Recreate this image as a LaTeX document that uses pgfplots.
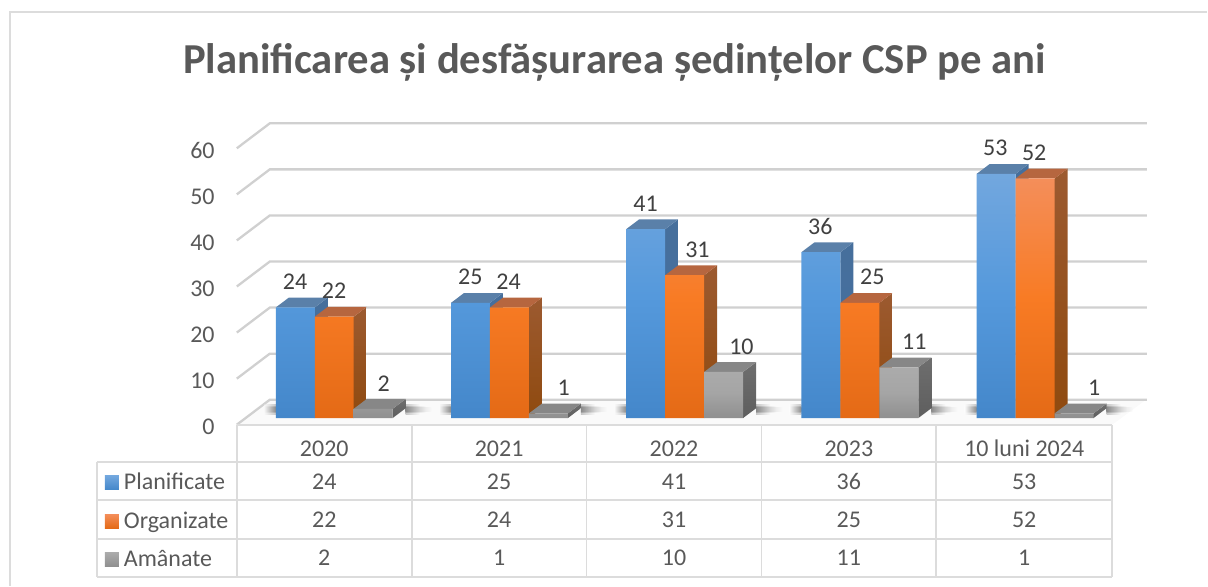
\documentclass[border=0pt]{standalone}
\usepackage{fontspec}
\setmainfont{Carlito}
\usepackage{pgfplots}
\pgfplotsset{compat=1.18}

\definecolor{txt}{HTML}{595959}
\definecolor{lbl}{HTML}{404040}
\definecolor{gridc}{HTML}{D0D0D0}
\definecolor{tablec}{HTML}{DCDCDC}
\definecolor{floorc}{HTML}{FAFAFA}
\definecolor{blueT}{HTML}{72A7DE}\definecolor{blueM}{HTML}{5599DC}\definecolor{blueB}{HTML}{4487CA}
\definecolor{orgT}{HTML}{F48E5A}\definecolor{orgM}{HTML}{F87B24}\definecolor{orgB}{HTML}{E46A16}
\definecolor{grayT}{HTML}{ABABAB}\definecolor{grayM}{HTML}{A5A5A5}\definecolor{grayB}{HTML}{8F8F8F}
\definecolor{blueS}{HTML}{466F9C}\definecolor{blueSb}{HTML}{44709F}\definecolor{blueTop}{HTML}{5A80A9}
\definecolor{orgS}{HTML}{9C5A30}\definecolor{orgSb}{HTML}{8F4A0F}\definecolor{orgTop}{HTML}{B6663F}
\definecolor{grayS}{HTML}{6E6E6E}\definecolor{graySb}{HTML}{5E5E5E}\definecolor{grayTop}{HTML}{878787}

% side and top face of one 3D bar: left x, value, series prefix
\newcommand{\barfaces}[3]{%
  \pgfmathsetmacro{\xa}{#1+39}\pgfmathsetmacro{\xb}{#1+39+13}\pgfmathsetmacro{\xc}{#1+13}%
  \pgfmathsetmacro{\vb}{#2+2.13}%
  \addplot[draw=none, top color=#3S, bottom color=#3Sb, forget plot] coordinates {(\xa,0)(\xb,2.13)(\xb,\vb)(\xa,#2)} -- cycle;
  \addplot[draw=none, fill=#3Top, forget plot] coordinates {(#1,#2)(\xc,\vb)(\xb,\vb)(\xa,#2)} -- cycle;
}
% soft floor shadow to the left and right of a group, three thin layers
\newcommand{\shadowlayer}[3]{%
  \addplot[draw=none, fill opacity=0.32, left color=floorc, right color=black!65, forget plot]
    coordinates {(\la,#1)(\la,#2)(\xg,#2)(\xg,#1)} -- cycle;
  \addplot[draw=none, fill opacity=0.32, left color=black!65, right color=floorc, forget plot]
    coordinates {(\ra,#1)(\ra,#2)(#3,#2)(#3,#1)} -- cycle;
}
\newcommand{\floorshadow}[1]{%
  \pgfmathsetmacro{\xg}{#1}\pgfmathsetmacro{\la}{#1-12}\pgfmathsetmacro{\ra}{#1+117+13}%
  \pgfmathsetmacro{\rc}{#1+117+13+26}\pgfmathsetmacro{\rd}{#1+117+13+20}\pgfmathsetmacro{\re}{#1+117+13+14}%
  \shadowlayer{0.8}{2.9}{\re}\shadowlayer{1.1}{2.6}{\rd}\shadowlayer{1.4}{2.3}{\rc}%
}
% one column of the data table
\newcommand{\tablecol}[4]{%
  \node[text=txt, anchor=center] at (axis cs:#1,-13.8) {#2};
  \node[text=txt, anchor=center] at (axis cs:#1,-22.0) {#3};
  \node[text=txt, anchor=center] at (axis cs:#1,-30.3) {#4};
}

\begin{document}
\begin{tikzpicture}
\begin{axis}[
    width=910.7pt, height=301.6pt, scale only axis,
    xmin=237, xmax=1147.7, ymin=-1.45, ymax=63.97,
    clip=false,
    axis line style={draw=none},
    major tick length=0pt,
    /pgf/number format/assume math mode=true,
    font=\fontsize{24}{28}\selectfont,
    title={\fontsize{42.7}{50}\selectfont\bfseries Planificarea și desfășurarea ședințelor CSP pe ani},
    title style={at={(0.415,1.183)}, anchor=center, text=txt},
    ytick={0,10,20,30,40,50,60},
    yticklabel style={text=txt, anchor=east, inner sep=0pt, xshift=-22pt, yshift=-9pt},
    xtick={324.5,499.5,674.5,849.5,1025},
    xticklabels={2020,2021,2022,2023,10 luni 2024},
    xticklabel style={text=txt, anchor=center, inner sep=0pt, text height=15pt, text depth=0pt, yshift=-24pt},
    legend style={at={(axis cs:105,-12.3)}, anchor=north west, draw=none, fill=none,
      inner sep=0pt, outer sep=0pt, row sep=18.5pt, text=txt,
      /tikz/column 1/.style={column sep=5pt},
      nodes={inner sep=0pt, text height=15pt, text depth=5pt},
      font=\fontsize{24}{28}\selectfont},
    legend cell align=left,
    every node near coord/.style={anchor=center, yshift=25.6pt, text=lbl, inner sep=0pt, font=\fontsize{24}{28}\selectfont},
]
% frame, cut by the page on the right and at the bottom
\draw[tablec, line width=1.8pt] (axis cs:10,-36.38) -- (axis cs:10,88.13) -- (axis cs:1208,88.13);
\path (axis cs:0,-36.38) rectangle (axis cs:1208,90.74);

% floor
\addplot[draw=none, fill=floorc, forget plot] coordinates {(237,-1.45)(270,3.97)(1147,3.97)(1113,-1.45)} -- cycle;

% walls
\pgfplotsinvokeforeach{0,10,20,30,40,50,60}{
  \pgfmathsetmacro{\fy}{#1-1.45}\pgfmathsetmacro{\by}{#1+3.97}
  \addplot[gridc, line width=2.3pt, forget plot] coordinates {(237,\fy)(270,\by)(1147.7,\by)};
}

\floorshadow{276}\floorshadow{451.35}\floorshadow{626.7}\floorshadow{802.05}\floorshadow{977.4}

% Planificate
\barfaces{276}{24}{blue}
\barfaces{451.35}{25}{blue}
\barfaces{626.7}{41}{blue}
\barfaces{802.05}{36}{blue}
\barfaces{977.4}{53}{blue}
\addplot[ybar, bar width=39pt, bar shift=0pt, draw=none, top color=blueT, bottom color=blueB, middle color=blueM,
  legend image code/.code={\shade[top color=blueT, bottom color=blueB] (0pt,-5pt) rectangle (14pt,9pt);}]
  coordinates {(295.5,24)(470.85,25)(646.2,41)(821.55,36)(996.9,53)};
\addlegendentry{Planificate}

% Organizate
\barfaces{315}{22}{org}
\barfaces{490.35}{24}{org}
\barfaces{665.7}{31}{org}
\barfaces{841.05}{25}{org}
\barfaces{1016.4}{52}{org}
\addplot[ybar, bar width=39pt, bar shift=0pt, draw=none, top color=orgT, bottom color=orgB, middle color=orgM,
  legend image code/.code={\shade[top color=orgT, bottom color=orgB] (0pt,-5pt) rectangle (14pt,9pt);}]
  coordinates {(334.5,22)(509.85,24)(685.2,31)(860.55,25)(1035.9,52)};
\addlegendentry{Organizate}

% Amanate
\barfaces{354}{2}{gray}
\barfaces{529.35}{1}{gray}
\barfaces{704.7}{10}{gray}
\barfaces{880.05}{11}{gray}
\barfaces{1055.4}{1}{gray}
\addplot[ybar, bar width=39pt, bar shift=0pt, draw=none, top color=grayT, bottom color=grayB, middle color=grayM,
  legend image code/.code={\shade[top color=grayT, bottom color=grayB] (0pt,-5pt) rectangle (14pt,9pt);}]
  coordinates {(373.5,2)(548.85,1)(724.2,10)(899.55,11)(1074.9,1)};
\addlegendentry{Amânate}

% value labels, moved by hand beside the neighbouring bars as in the original
\addplot[draw=none, mark=none, forget plot, nodes near coords, point meta=y]
  coordinates {(295.3,24)(470.7,25)(646,41)(821,36)(996,53)};
\addplot[draw=none, mark=none, forget plot, nodes near coords, point meta=y]
  coordinates {(334.3,22)(509,24)(698,31)(873,25)(1035,52)};
\addplot[draw=none, mark=none, forget plot, nodes near coords, point meta=y]
  coordinates {(384,2)(564,1)(742,10)(915,11)(1095,1)};

% data table
\draw[tablec, line width=1.8pt]
  (axis cs:237,-1.6) -- (axis cs:1113,-1.6)
  (axis cs:97,-9.52) -- (axis cs:1113,-9.52)
  (axis cs:97,-17.83) -- (axis cs:1113,-17.83)
  (axis cs:97,-26.18) -- (axis cs:1113,-26.18)
  (axis cs:97,-34.43) -- (axis cs:1113,-34.43)
  (axis cs:97,-9.52) -- (axis cs:97,-34.43)
  (axis cs:237,-1.6) -- (axis cs:237,-34.43)
  (axis cs:412,-1.6) -- (axis cs:412,-34.43)
  (axis cs:587,-1.6) -- (axis cs:587,-34.43)
  (axis cs:762,-1.6) -- (axis cs:762,-34.43)
  (axis cs:937,-1.6) -- (axis cs:937,-34.43)
  (axis cs:1113,-1.6) -- (axis cs:1113,-34.43);
\tablecol{324.5}{24}{22}{2}
\tablecol{499.5}{25}{24}{1}
\tablecol{674.5}{41}{31}{10}
\tablecol{849.5}{36}{25}{11}
\tablecol{1025}{53}{52}{1}
\end{axis}
\end{tikzpicture}
\end{document}
